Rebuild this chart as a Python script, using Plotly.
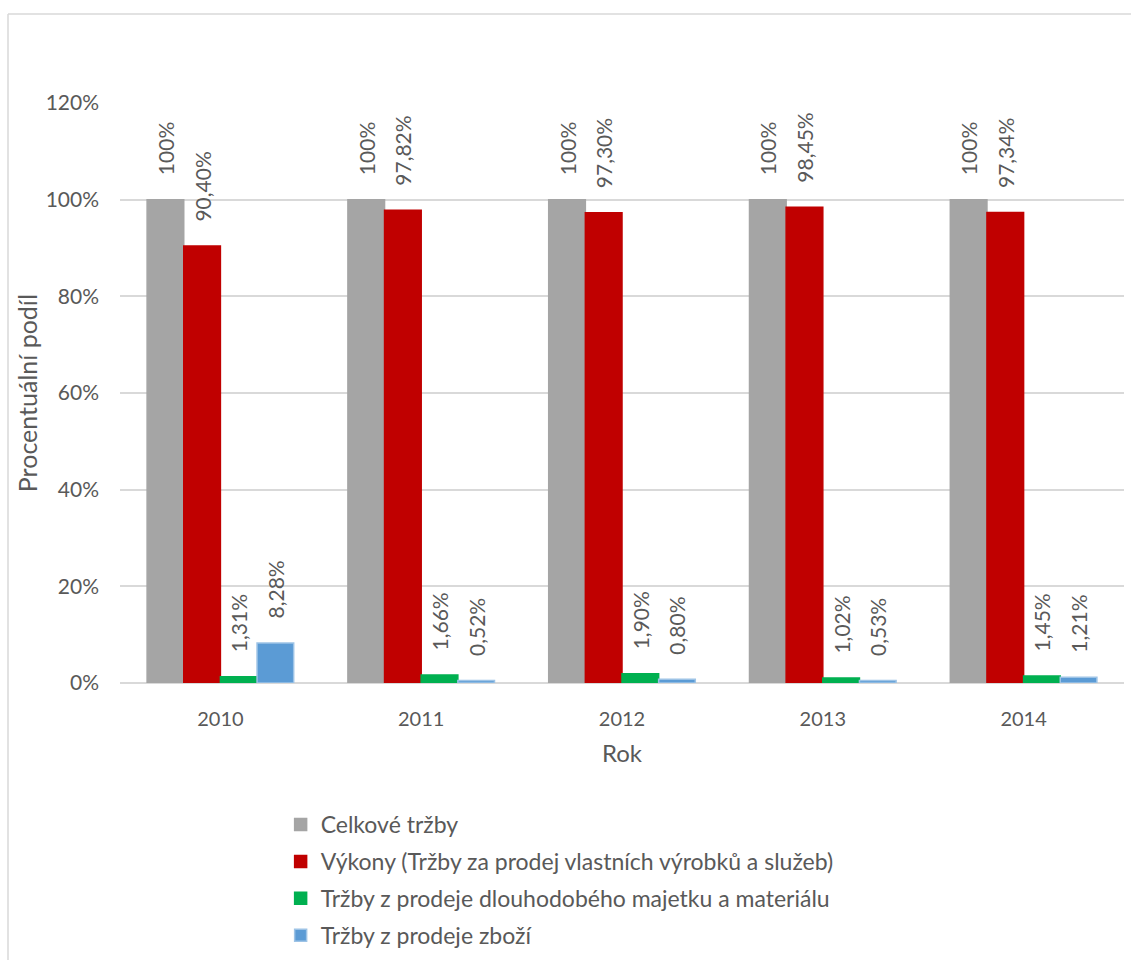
import plotly.graph_objects as go

years = ["2010", "2011", "2012", "2013", "2014"]
series_names = [
    "Celkové tržby",
    "Výkony (Tržby za prodej vlastních výrobků a služeb)",
    "Tržby z prodeje dlouhodobého majetku a materiálu",
    "Tržby z prodeje zboží",
]
celkove = [100, 100, 100, 100, 100]
vykony = [90.40, 97.82, 97.30, 98.45, 97.34]
dlouhodoby = [1.31, 1.66, 1.90, 1.02, 1.45]
zbozi = [8.28, 0.52, 0.80, 0.53, 1.21]
labels_celkove = ["100%", "100%", "100%", "100%", "100%"]

colors = ["#A5A5A5", "#C00000", "#00B050", "#5B9BD5"]
line_colors = ["#A5A5A5", "#C00000", "#00B050", "#9DC3E6"]

FONT = "Lato"
TXT = "#595959"
PAD = "\u00a0\u00a0\u00a0\u00a0"


def fmt(v):
    return f"{v:.2f}".replace(".", ",") + "%"


all_values = [celkove, vykony, dlouhodoby, zbozi]
all_text = [labels_celkove] + [[fmt(v) for v in s] for s in all_values[1:]]

fig = go.Figure()
for name, vals, txt, c, lc in zip(series_names, all_values, all_text, colors, line_colors):
    fig.add_trace(go.Bar(
        x=years, y=[v / 100 for v in vals], name=name, legendgroup=name,
        marker=dict(color=c, line=dict(color=lc, width=1.5)),
        text=[PAD + t for t in txt], textposition="outside", textangle=-90,
        constraintext="none",
        textfont=dict(family=FONT, size=21, color=TXT),
        cliponaxis=False,
    ))

fig.update_layout(
    width=1131, height=960,
    paper_bgcolor="white", plot_bgcolor="white",
    margin=dict(l=120, r=7, t=103, b=277, autoexpand=False),
    barmode="group", bargap=0.27, bargroupgap=0,
    font=dict(family=FONT, size=20, color=TXT),
    xaxis=dict(
        title=dict(text="Rok", font=dict(family=FONT, size=24, color=TXT), standoff=16),
        tickfont=dict(family=FONT, size=20, color=TXT),
        showline=False, ticks="", ticklabelstandoff=22,
    ),
    yaxis=dict(
        title=dict(text="Procentuální podíl", font=dict(family=FONT, size=25, color=TXT), standoff=0),
        range=[0, 1.2], dtick=0.2, tickformat=".0%",
        tickfont=dict(family=FONT, size=21, color=TXT),
        gridcolor="#D9D9D9", gridwidth=1.5,
        zeroline=True, zerolinecolor="#D9D9D9", zerolinewidth=1.5,
        ticklabelstandoff=20,
    ),
    legend=dict(
        orientation="v", x=0.16, y=-0.207, xanchor="left", yanchor="top",
        font=dict(family=FONT, size=23, color=TXT),
        tracegroupgap=4, itemwidth=30,
    ),
    shapes=[
        dict(type="line", xref="paper", yref="paper",
             x0=(8 - 120) / 1004, x1=(1131 - 120) / 1004,
             y0=(683 - 14) / 580, y1=(683 - 14) / 580,
             line=dict(color="#D9D9D9", width=1.5)),
        dict(type="line", xref="paper", yref="paper",
             x0=(8 - 120) / 1004, x1=(8 - 120) / 1004,
             y0=(683 - 14) / 580, y1=(683 - 960) / 580,
             line=dict(color="#D9D9D9", width=1.5)),
    ],
)

fig.write_html("out.html")
